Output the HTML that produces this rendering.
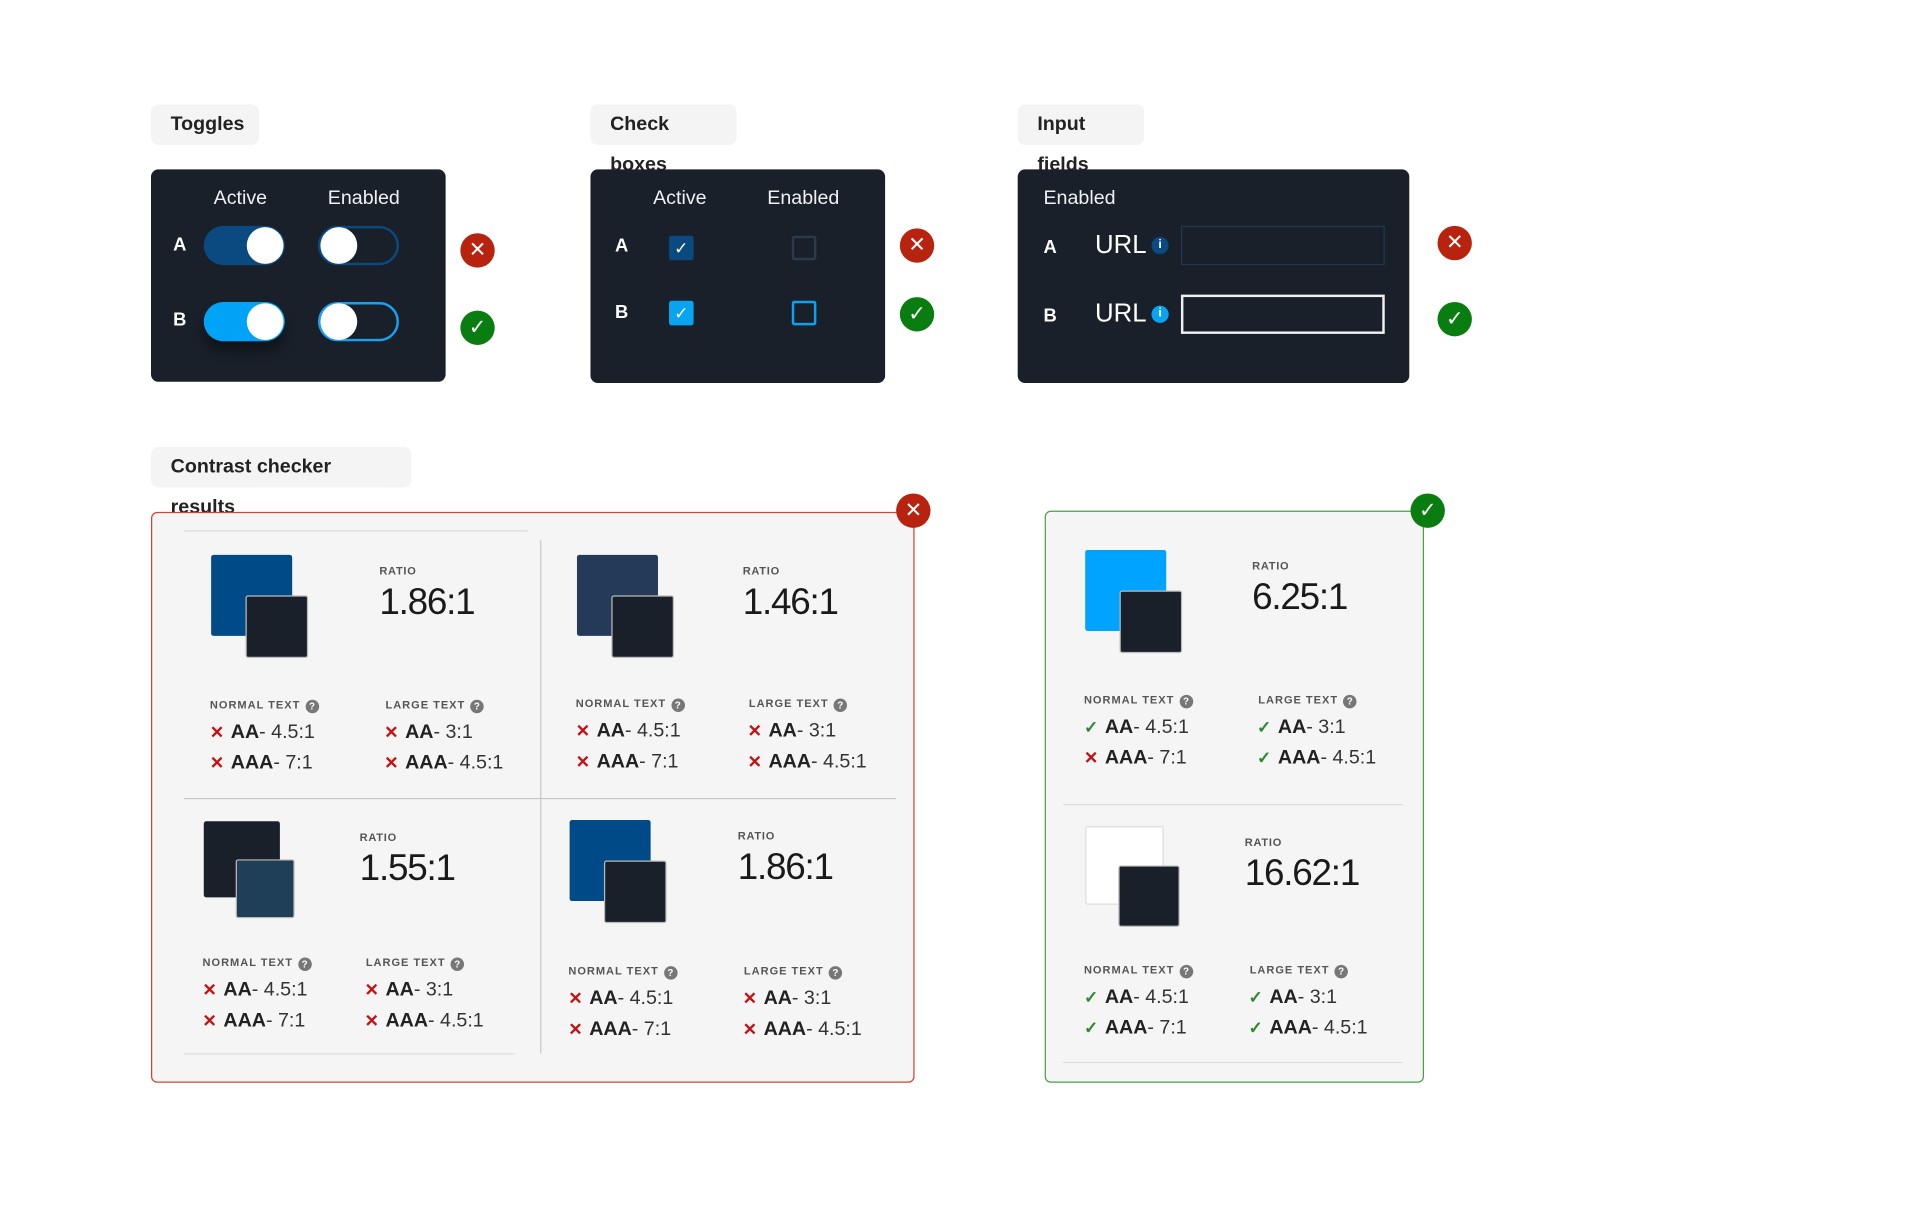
<!DOCTYPE html>
<html><head><meta charset="utf-8">
<style>
html,body{margin:0;padding:0;background:#fff;width:1920px;height:1215px;overflow:hidden;font-family:"Liberation Sans",sans-serif;}
#stage{position:absolute;left:0;top:0;width:1564px;height:990px;transform:scale(1.2276);transform-origin:0 0;}
.a{position:absolute;}
.tab{position:absolute;background:#f4f4f4;border-radius:6px;font-size:16px;font-weight:bold;color:#222;line-height:33px;padding:0 16px;box-sizing:border-box;height:33px;}
.panel{position:absolute;background:#19202a;border-radius:6px;}
.t{position:absolute;white-space:nowrap;}
.hd{color:#eef0f2;font-size:16px;}
.lab{color:#fff;font-size:15px;font-weight:bold;}
.stat{position:absolute;width:28px;height:28px;border-radius:50%;color:#fff;text-align:center;line-height:28px;font-size:17px;}
.bad{background:#b8230f;}
.good{background:#0a7d10;}
.tog{position:absolute;width:66px;height:32px;border-radius:16px;box-sizing:border-box;}
.knob{position:absolute;width:30px;height:30px;border-radius:50%;background:#fff;top:1px;}
.cb{position:absolute;width:20px;height:20px;box-sizing:border-box;border-radius:2px;color:#fff;font-size:14px;line-height:20px;text-align:center;}
.sq{position:absolute;border-radius:2px;box-sizing:border-box;}
.ratl{font-size:9px;font-weight:bold;color:#555;letter-spacing:.6px;}
.ratv{font-size:30px;font-weight:300;color:#1a1a1a;letter-spacing:-1px;}
.cat{font-size:9px;font-weight:bold;color:#555;letter-spacing:.8px;}
.q{display:inline-block;width:11px;height:11px;border-radius:50%;background:#777;color:#fff;font-size:8px;line-height:11px;text-align:center;margin-left:4px;vertical-align:-1px;letter-spacing:0;}
.row{font-size:16px;color:#222;}
.row b{font-weight:bold;}
.row span.v{color:#333;}
.x{color:#c41010;font-weight:bold;font-size:14px;display:inline-block;width:17px;}
.ok{color:#2e8a2e;font-weight:bold;font-size:14px;display:inline-block;width:17px;}
.ln{position:absolute;background:#ddd;}
</style></head>
<body>
<div id="stage">
  <div class="tab" style="left:123px;top:85px;width:88px">Toggles</div>
  <div class="tab" style="left:481px;top:85px;width:119px">Check boxes</div>
  <div class="tab" style="left:829px;top:85px;width:103px">Input fields</div>
  <div class="tab" style="left:123px;top:364px;width:212px">Contrast checker results</div>

  <!-- Toggles -->
  <div class="panel" style="left:123px;top:138px;width:240px;height:173px">
    <div class="t hd" style="left:51px;top:15px">Active</div>
    <div class="t hd" style="left:144px;top:15px">Enabled</div>
    <div class="t lab" style="left:18px;top:53px">A</div>
    <div class="t lab" style="left:18px;top:114px">B</div>
    <div class="tog" style="left:43px;top:46px;background:#0a4a80"><div class="knob" style="left:35px"></div></div>
    <div class="tog" style="left:136px;top:46px;border:2px solid #0a4a80"><div class="knob" style="left:0;top:-1px"></div></div>
    <div class="tog" style="left:43px;top:108px;background:#00a3f5;box-shadow:0 8px 10px rgba(0,0,0,.4)"><div class="knob" style="left:35px"></div></div>
    <div class="tog" style="left:136px;top:108px;border:2px solid #1aa0f0"><div class="knob" style="left:0;top:-1px"></div></div>
  </div>
  <div class="stat bad" style="left:375px;top:190px">✕</div>
  <div class="stat good" style="left:375px;top:253px">✓</div>

  <!-- Check boxes -->
  <div class="panel" style="left:481px;top:138px;width:240px;height:174px">
    <div class="t hd" style="left:51px;top:15px">Active</div>
    <div class="t hd" style="left:144px;top:15px">Enabled</div>
    <div class="t lab" style="left:20px;top:54px">A</div>
    <div class="t lab" style="left:20px;top:108px">B</div>
    <div class="cb" style="left:64px;top:54px;background:#0a4a80">✓</div>
    <div class="cb" style="left:164px;top:54px;border:2px solid #2c3a4c"></div>
    <div class="cb" style="left:64px;top:107px;background:#0aa3f0">✓</div>
    <div class="cb" style="left:164px;top:107px;border:2px solid #0aa3f0"></div>
  </div>
  <div class="stat bad" style="left:733px;top:186px">✕</div>
  <div class="stat good" style="left:733px;top:242px">✓</div>

  <!-- Input fields -->
  <div class="panel" style="left:829px;top:138px;width:319px;height:174px">
    <div class="t hd" style="left:21px;top:15px">Enabled</div>
    <div class="t lab" style="left:21px;top:55px">A</div>
    <div class="t lab" style="left:21px;top:111px">B</div>
    <div class="t" style="left:63px;top:50px;color:#fff;font-size:21px">URL</div>
    <div class="t" style="left:63px;top:106px;color:#fff;font-size:21px">URL</div>
    <div class="a" style="left:109px;top:55px;width:14px;height:14px;border-radius:50%;background:#0a4a80;color:#fff;font-size:10px;font-weight:bold;text-align:center;line-height:14px">i</div>
    <div class="a" style="left:109px;top:111px;width:14px;height:14px;border-radius:50%;background:#0aa3f0;color:#fff;font-size:10px;font-weight:bold;text-align:center;line-height:14px">i</div>
    <div class="a" style="left:133px;top:46px;width:166px;height:32px;border:1px solid #1f3a50;box-sizing:border-box"></div>
    <div class="a" style="left:133px;top:102px;width:166px;height:32px;border:2px solid #f0f0f0;box-sizing:border-box"></div>
  </div>
  <div class="stat bad" style="left:1171px;top:184px">✕</div>
  <div class="stat good" style="left:1171px;top:246px">✓</div>

  <!-- Contrast panels -->
  <div class="a" style="left:123px;top:417px;width:622px;height:465px;border:1px solid #d04535;border-radius:5px;background:#f5f5f5;box-sizing:border-box"></div>
  <div class="a" style="left:851px;top:416px;width:309px;height:466px;border:1px solid #4aa04a;border-radius:5px;background:#f5f5f5;box-sizing:border-box"></div>
  <div class="ln" style="left:150px;top:432px;width:280px;height:1px"></div>
  <div class="ln" style="left:440px;top:440px;width:1px;height:418px;background:#c8c8c8"></div>
  <div class="ln" style="left:150px;top:650px;width:580px;height:1px;background:#c8c8c8"></div>
  <div class="ln" style="left:150px;top:858px;width:270px;height:1px"></div>
  <div class="ln" style="left:866px;top:655px;width:277px;height:1px"></div>
  <div class="ln" style="left:866px;top:865px;width:277px;height:1px"></div>
  <div class="stat bad" style="left:730px;top:402px">✕</div>
  <div class="stat good" style="left:1149px;top:402px">✓</div>
  <div id="cells"></div>
</div>
<script>
// x, y = top-left of the background swatch
var cellX = [172, 470, 166, 464, 884, 884];
var cellY = [452, 452, 669, 668, 448, 673];
var ratios = ["1.86:1", "1.46:1", "1.55:1", "1.86:1", "6.25:1", "16.62:1"];
var fgColors = ["#004a88", "#243a58", "#19202a", "#004a88", "#00a3ff", "#ffffff"];
var bgColors = ["#19202a", "#19202a", "#1f3f58", "#19202a", "#19202a", "#19202a"];
// pass flags: normal AA, normal AAA, large AA, large AAA
var passes = [[0,0,0,0],[0,0,0,0],[0,0,0,0],[0,0,0,0],[1,0,1,1],[1,1,1,1]];
var sizes = [66, 66, 62, 66, 66, 64];
var ratioDX = [137, 135, 127, 137, 136, 130];
var labelDY = [117, 116, 110, 118, 117, 112];
var largeDX = [142, 140, 132, 142, 141, 134];

var root = document.getElementById('stage');
function mk(cls, style, html, name){
  var el = document.createElement('div');
  el.className = cls;
  el.style.cssText = style;
  if (html) el.innerHTML = html;
  
  
  root.appendChild(el);
  return el;
}
for (var i = 0; i < ratios.length; i++){
  var x = cellX[i], y = cellY[i], s = sizes[i];
  var fgBorder = fgColors[i] === "#ffffff" ? "border:1px solid #ddd;" : "";
  mk('sq', 'left:'+x+'px;top:'+y+'px;width:'+s+'px;height:'+s+'px;background:'+fgColors[i]+';'+fgBorder, '', 'foreground-swatch');
  var s2 = Math.round(s*0.78);
  mk('sq', 'left:'+(x+s-s2+(s2*0.27|0))+'px;top:'+(y+s-s2+(s2*0.36|0))+'px;width:'+s2+'px;height:'+s2+'px;background:'+bgColors[i]+';border:1px solid #bbb', '', 'background-swatch');
  mk('t ratl', 'left:'+(x+ratioDX[i])+'px;top:'+(y+8)+'px', 'RATIO', 'ratio-label');
  mk('t ratv', 'left:'+(x+ratioDX[i])+'px;top:'+(y+22)+'px', ratios[i], 'ratio-value');
  var ly = y + labelDY[i];
  mk('t cat', 'left:'+(x-1)+'px;top:'+ly+'px', 'NORMAL TEXT<span class="q">?</span>', 'normal-text-label');
  mk('t cat', 'left:'+(x+largeDX[i])+'px;top:'+ly+'px', 'LARGE TEXT<span class="q">?</span>', 'large-text-label');
  var p = passes[i];
  var rows = [["AA","4.5:1",p[0],0,0],["AAA","7:1",p[1],0,1],["AA","3:1",p[2],1,0],["AAA","4.5:1",p[3],1,1]];
  for (var r = 0; r < 4; r++){
    var rw = rows[r];
    var ic = rw[2] ? '<span class="ok">✓</span>' : '<span class="x">✕</span>';
    mk('t row', 'left:'+(x-1+rw[3]*largeDX[i])+'px;top:'+(ly+19+rw[4]*25)+'px', ic+'<b>'+rw[0]+'</b><span class="v">- '+rw[1]+'</span>', 'criterion-row');
  }
}
</script>
</body></html>
